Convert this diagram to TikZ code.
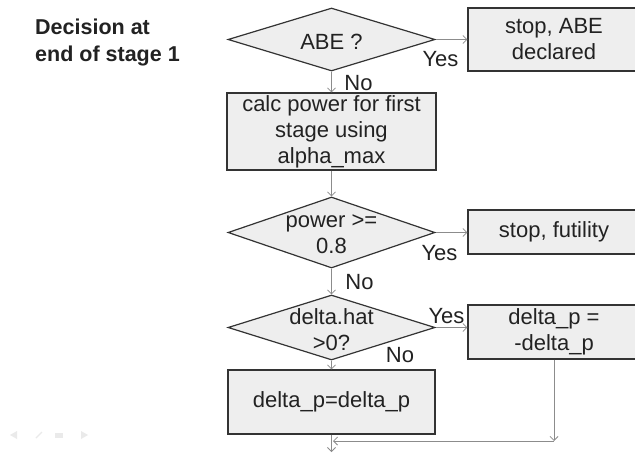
\documentclass[tikz,border=0pt]{standalone}
\usepackage{fontspec}
\setmainfont{Liberation Sans}
\usetikzlibrary{shapes.geometric,arrows.meta}

\definecolor{boxfill}{HTML}{EEEEEE}
\definecolor{boxline}{HTML}{333333}
\definecolor{wire}{HTML}{8C8C8C}
\definecolor{ink}{HTML}{222222}
\definecolor{navgray}{HTML}{EAEAEA}

\begin{document}
\begin{tikzpicture}[x=1pt,y=-1pt,
  every node/.style={font=\fontsize{22}{26}\selectfont, text=ink},
  stepbox/.style={draw=boxline, line width=1.2pt, fill=boxfill, rectangle,
    align=center, inner sep=0pt},
  decision/.style={draw=boxline, line width=1.2pt, fill=boxfill, diamond,
    inner sep=0pt, minimum width=207pt},
  inside/.style={inner sep=0pt, align=center, yshift=-2pt},
  flow/.style={draw=wire, line width=0.8pt, -{Straight Barb[length=4pt,width=8pt]}},
  tag/.style={inner sep=0pt, anchor=base}
]
\fill[white] (0,0) rectangle (635,455);
\useasboundingbox (0,0) rectangle (635,455);

% heading (base anchor sits on the last line)
\node[inner sep=0pt, anchor=base west, align=left,
      font=\fontsize{21.5}{27}\selectfont\bfseries] (title) at (35,61)
  {Decision at\\end of stage 1};

% decisions and actions
\node[decision, minimum height=63pt,
      label={[inside]center:ABE ?}] (d1) at (331.5,39.5) {};
\node[stepbox, minimum width=172pt, minimum height=63pt] (b1) at (554,39.5)
  {stop, ABE\\declared};
\node[stepbox, minimum width=209pt, minimum height=77pt] (b2) at (331.5,131.5)
  {calc power for first\\stage using\\alpha\_max};
\node[decision, minimum height=71pt,
      label={[inside]center:power >=\\0.8}] (d2) at (331.5,232.5) {};
\node[stepbox, minimum width=172pt, minimum height=44pt] (b3) at (554,232)
  {stop, futility};
\node[decision, minimum height=65pt,
      label={[inside]center:delta.hat\\>0?}] (d3) at (331.5,327.5) {};
\node[stepbox, minimum width=172pt, minimum height=54pt] (b4) at (554,332)
  {delta\_p =\\-delta\_p};
\node[stepbox, minimum width=207pt, minimum height=64pt] (b5) at (331.5,402)
  {delta\_p=delta\_p};

% branch labels
\node[tag] (y1) at (440.5,66) {Yes};
\node[tag] (n1) at (358.5,90) {No};
\node[tag] (y2) at (439.5,260) {Yes};
\node[tag] (n2) at (359.5,289) {No};
\node[tag] (y3) at (446.5,323) {Yes};
\node[tag] (n3) at (400,362) {No};

% connectors
\coordinate (join) at (554,441);
\coordinate (merge) at (333,441);
\coordinate (exit) at (331.5,452);
\draw[flow] (d1.east) -- (d1.east -| b1.west);
\draw[flow] (d1.south) -- (b2.north);
\draw[flow] (b2.south) -- (d2.north);
\draw[flow] (d2.east) -- (d2.east -| b3.west);
\draw[flow] (d2.south) -- (d3.north);
\draw[flow] (d3.east) -- (d3.east -| b4.west);
\draw[flow] (d3.south) -- (b5.north);
\draw[flow] (b4.south) -- (join);
\draw[flow] (join) -- (merge);
\draw[flow] (b5.south) -- (exit);

% navigation symbols
\fill[navgray] (10,435) -- (17,431) -- (17,439) -- cycle;
\draw[navgray, line width=1.2pt] (36,438) -- (42,432);
\fill[navgray] (55,432.5) rectangle (63,437.5);
\fill[navgray] (88,435) -- (81,431) -- (81,439) -- cycle;
\end{tikzpicture}
\end{document}
